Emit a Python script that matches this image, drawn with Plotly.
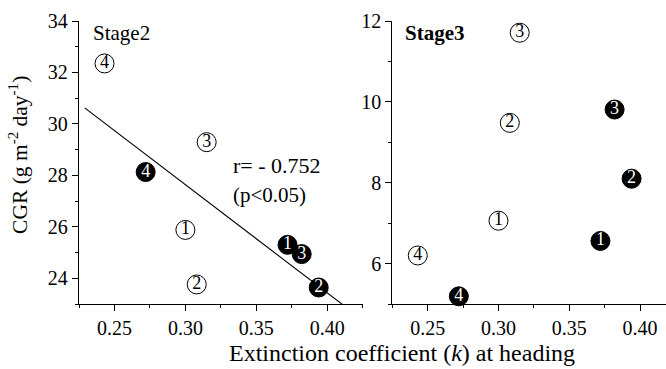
import numpy as np
import plotly.graph_objects as go

# Treatment labels (circled numbers inside the markers)
treatments = ["1", "2", "3", "4"]

# Extinction coefficient at heading
k_open = [0.300, 0.308, 0.315, 0.243]
k_filled = [0.372, 0.394, 0.382, 0.272]

# Crop growth rate, Stage2
cgr2_open = [25.88, 23.76, 29.29, 32.35]
cgr2_filled = [25.30, 23.64, 24.94, 28.13]

# Crop growth rate, Stage3
cgr3_open = [7.06, 9.48, 11.71, 6.20]
cgr3_filled = [6.56, 8.10, 9.81, 5.19]

x_ticks = [0.25, 0.30, 0.35, 0.40]
y2_ticks = [24, 26, 28, 30, 32, 34]
y3_ticks = [6, 8, 10, 12]

FONT = "Liberation Serif, Times New Roman, Times, serif"

# Linear fit for Stage2 over all eight points
k_all = np.array(k_open + k_filled)
cgr2_all = np.array(cgr2_open + cgr2_filled)
slope, intercept = np.polyfit(k_all, cgr2_all, 1)
fit_x = np.array([0.229, 0.425])
fit_y = slope * fit_x + intercept

fig = go.Figure()

fig.add_trace(go.Scatter(
    x=fit_x, y=fit_y, mode="lines",
    line=dict(color="black", width=1.1),
    xaxis="x", yaxis="y", showlegend=False, hoverinfo="skip"))


def add_points(k, cgr, filled, xa, ya):
    fig.add_trace(go.Scatter(
        x=k, y=cgr, mode="markers+text", text=treatments,
        textposition="middle center",
        textfont=dict(family=FONT, size=18,
                      color="white" if filled else "black"),
        marker=dict(size=19, color="black" if filled else "white",
                    line=dict(color="black", width=1)),
        cliponaxis=False, xaxis=xa, yaxis=ya, showlegend=False))


add_points(k_open, cgr2_open, False, "x", "y")
add_points(k_filled, cgr2_filled, True, "x", "y")
add_points(k_open, cgr3_open, False, "x2", "y2")
add_points(k_filled, cgr3_filled, True, "x2", "y2")

axis_common = dict(
    showline=True, linecolor="black", linewidth=1.3, mirror=False,
    showgrid=False, zeroline=False,
    ticks="outside", ticklen=6, tickwidth=1.2, tickcolor="black",
    tickfont=dict(family=FONT, size=20, color="black"),
)

fig.update_layout(
    width=666, height=369, autosize=False,
    margin=dict(l=79, r=0, t=21, b=65),
    paper_bgcolor="white", plot_bgcolor="white",
    font=dict(family=FONT, color="black"),
    xaxis=dict(domain=[0, 0.4833], range=[0.225, 0.425],
               tickvals=x_ticks, tickformat=".2f", anchor="y",
               minor=dict(dtick=0.025, tick0=0.225, ticks="outside",
                          ticklen=3, tickcolor="black"),
               **axis_common),
    yaxis=dict(domain=[0, 1], range=[23, 34], tickvals=y2_ticks,
               anchor="x",
               minor=dict(dtick=1, tick0=23, ticks="outside",
                          ticklen=3, tickcolor="black"),
               **axis_common),
    xaxis2=dict(domain=[0.5337, 1], range=[0.225, 0.4183],
                tickvals=x_ticks, tickformat=".2f", anchor="y2",
                minor=dict(dtick=0.025, tick0=0.225, ticks="outside",
                           ticklen=3, tickcolor="black"),
                **axis_common),
    yaxis2=dict(domain=[0, 1], range=[5, 12], tickvals=y3_ticks,
                anchor="x2",
                minor=dict(dtick=1, tick0=5, ticks="outside",
                           ticklen=3, tickcolor="black"),
                **axis_common),
)

ann_font = dict(family=FONT, size=21, color="black")
fig.add_annotation(text="CGR (g m<sup>-2</sup> day<sup>-1</sup>)",
                   xref="paper", yref="paper", x=-0.104, y=0.5265,
                   textangle=-90, showarrow=False,
                   font=dict(family=FONT, size=21.5, color="black"),
                   xanchor="center", yanchor="middle")
fig.add_annotation(text="Extinction coefficient (<i>k</i>) at heading",
                   xref="paper", yref="paper", x=0.5503, y=-0.172,
                   showarrow=False,
                   font=dict(family=FONT, size=24, color="black"),
                   xanchor="center", yanchor="middle")
fig.add_annotation(text="Stage2", xref="paper", yref="paper",
                   x=0.0204, y=0.9576, showarrow=False, font=ann_font,
                   xanchor="left", yanchor="middle")
fig.add_annotation(text="<b>Stage3</b>", xref="paper", yref="paper",
                   x=0.5515, y=0.9576, showarrow=False, font=ann_font,
                   xanchor="left", yanchor="middle")
fig.add_annotation(text="r= - 0.752", xref="paper", yref="paper",
                   x=0.259, y=0.4887, showarrow=False,
                   font=dict(family=FONT, size=22, color="black"),
                   xanchor="left", yanchor="middle")
fig.add_annotation(text="(p<0.05)", xref="paper", yref="paper",
                   x=0.259, y=0.385, showarrow=False,
                   font=dict(family=FONT, size=21, color="black"),
                   xanchor="left", yanchor="middle")

fig.write_html("out.html")
